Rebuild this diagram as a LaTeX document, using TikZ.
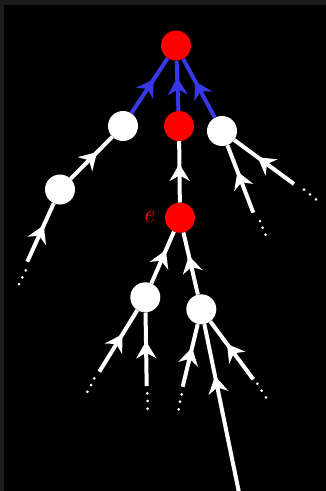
\documentclass[tikz,border=0pt]{standalone}
\usepackage{fontspec}
\usetikzlibrary{arrows.meta,decorations.markings}
\definecolor{frame}{HTML}{1C1C1C}
\definecolor{edgeblue}{HTML}{3838E8}
\definecolor{nodered}{HTML}{FF0000}
\tikzset{
  vert/.style={circle,inner sep=0pt,minimum size=30pt},
  rv/.style={vert,fill=nodered},
  wv/.style={vert,fill=white},
  edgeline/.style={line width=4pt,postaction={decorate},
    decoration={markings,mark=at position #1 with {\arrow[xshift=8pt]{Stealth[length=17pt,width=20pt,inset=5.5pt]}}}},
  wedge/.style={edgeline=#1,draw=white,fill=white},
  bedge/.style={edgeline=#1,draw=edgeblue,fill=edgeblue},
  dotmark/.style={fill=white}
}
\begin{document}
\begin{tikzpicture}[x=1pt,y=-1pt]
\useasboundingbox (0,0) rectangle (326,491);
\fill[black] (0,0) rectangle (326,491);
\fill[frame] (0,0) rectangle (326,5);
\fill[frame] (0,0) rectangle (4,491);
% vertices
\node[rv] (top) at (176,45.5) {};
\node[wv] (l1) at (123,126) {};
\node[rv] (m1) at (179,126) {};
\node[wv] (r1) at (222,131) {};
\node[wv] (l2) at (60,189.5) {};
\node[rv] (e) at (180,217.7) {};
\node[wv] (bl) at (145.3,297.3) {};
\node[wv] (br) at (201.3,309.3) {};
\node[text=nodered,font=\fontsize{26}{26}\selectfont\itshape] (elab) at (148.5,216.5) {e};
% free ends
\coordinate (a1) at (27.3,261.7);
\coordinate (a2) at (253.3,212.7);
\coordinate (a3) at (294,184);
\coordinate (a4) at (99.3,371.7);
\coordinate (a5) at (146.7,386);
\coordinate (a6) at (182.7,386.7);
\coordinate (a7) at (253.3,379.3);
\coordinate (a8) at (239.5,495);
% blue edges
\draw[bedge=0.5] (l1) -- (top);
\draw[bedge=0.5] (m1) -- (top);
\draw[bedge=0.5] (r1) -- (top);
% white edges
\draw[wedge=0.5] (l2) -- (l1);
\draw[wedge=0.5] (e) -- (m1);
\draw[wedge=0.5] (bl) -- (e);
\draw[wedge=0.5] (br) -- (e);
\draw[wedge=0.5] (a1) -- (l2);
\draw[wedge=0.5] (a2) -- (r1);
\draw[wedge=0.5] (a3) -- (r1);
\draw[wedge=0.5] (a4) -- (bl);
\draw[wedge=0.5] (a5) -- (bl);
\draw[wedge=0.5] (a6) -- (br);
\draw[wedge=0.5] (a7) -- (br);
\draw[wedge=0.65] (a8) -- (br);
% dots
\foreach \p in {(25.7,270.3),(22.3,277.3),(19,284),
  (260,221),(262.7,227.7),(265.7,234.7),
  (304,189.7),(310,194.3),(316,199.3),
  (94.3,378.3),(91,385),(87.3,391.7),
  (147.3,393.3),(147.7,401),(147.7,408.7),
  (181.7,394.3),(180,401.7),(178.7,409.3),
  (257.3,383.7),(261.7,390.7),(266,397.3)}
  \fill[dotmark] \p circle (1.5);
\end{tikzpicture}
\end{document}
